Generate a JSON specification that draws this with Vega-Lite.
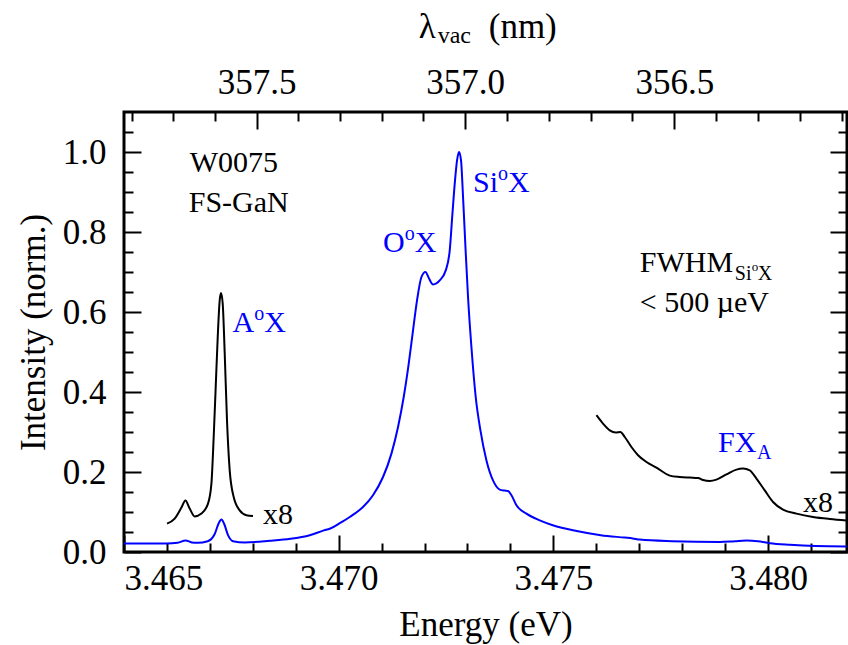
{
  "$schema": "https://vega.github.io/schema/vega-lite/v6.json",
  "width": 723,
  "height": 440,
  "autosize": {"type": "none"},
  "padding": {"left": 124, "top": 112, "right": 1, "bottom": 93},
  "config": {
    "view": {"stroke": "black", "strokeWidth": 3},
    "font": "Liberation Serif",
    "axis": {
      "grid": false,
      "domain": false,
      "tickColor": "black",
      "tickWidth": 2,
      "labelFont": "Liberation Serif",
      "labelFontSize": 35,
      "labelColor": "black",
      "titleFont": "Liberation Serif",
      "titleFontSize": 35,
      "titleFontWeight": "normal",
      "titleColor": "black"
    }
  },
  "datasets": {
    "blue": [
      {"e": 3.46500, "i": 0.021}, {"e": 3.465988, "i": 0.021}, {"e": 3.466251, "i": 0.023},
      {"e": 3.466437, "i": 0.029}, {"e": 3.466577, "i": 0.024}, {"e": 3.466717, "i": 0.023},
      {"e": 3.466950, "i": 0.027}, {"e": 3.467113, "i": 0.045}, {"e": 3.467206, "i": 0.072},
      {"e": 3.467269, "i": 0.081}, {"e": 3.467334, "i": 0.070}, {"e": 3.467423, "i": 0.042},
      {"e": 3.467539, "i": 0.027}, {"e": 3.467812, "i": 0.024}, {"e": 3.468394, "i": 0.028},
      {"e": 3.468878, "i": 0.033}, {"e": 3.469326, "i": 0.042}, {"e": 3.469656, "i": 0.054},
      {"e": 3.469792, "i": 0.058}, {"e": 3.470025, "i": 0.072}, {"e": 3.470258, "i": 0.0875},
      {"e": 3.470567, "i": 0.1125}, {"e": 3.470800, "i": 0.142}, {"e": 3.471033, "i": 0.1875},
      {"e": 3.471229, "i": 0.246}, {"e": 3.471383, "i": 0.3125}, {"e": 3.471515, "i": 0.3875},
      {"e": 3.471632, "i": 0.471}, {"e": 3.471732, "i": 0.554}, {"e": 3.471825, "i": 0.629},
      {"e": 3.471928, "i": 0.6875}, {"e": 3.472021, "i": 0.700}, {"e": 3.472105, "i": 0.6835},
      {"e": 3.472198, "i": 0.669}, {"e": 3.472354, "i": 0.679}, {"e": 3.472494, "i": 0.704},
      {"e": 3.472587, "i": 0.754}, {"e": 3.472650, "i": 0.846}, {"e": 3.472710, "i": 0.929},
      {"e": 3.472757, "i": 0.979}, {"e": 3.472804, "i": 1.000}, {"e": 3.472850, "i": 0.979},
      {"e": 3.472897, "i": 0.8875}, {"e": 3.472953, "i": 0.7625}, {"e": 3.473013, "i": 0.6375},
      {"e": 3.473092, "i": 0.5125}, {"e": 3.473192, "i": 0.3875}, {"e": 3.473302, "i": 0.304},
      {"e": 3.473442, "i": 0.229}, {"e": 3.473595, "i": 0.179}, {"e": 3.473752, "i": 0.156},
      {"e": 3.473868, "i": 0.1535}, {"e": 3.473945, "i": 0.1525}, {"e": 3.474024, "i": 0.142},
      {"e": 3.474141, "i": 0.117}, {"e": 3.474374, "i": 0.096}, {"e": 3.474683, "i": 0.079},
      {"e": 3.474986, "i": 0.067}, {"e": 3.475545, "i": 0.0525}, {"e": 3.476104, "i": 0.042},
      {"e": 3.476663, "i": 0.036}, {"e": 3.476850, "i": 0.034}, {"e": 3.477013, "i": 0.031},
      {"e": 3.477770, "i": 0.027}, {"e": 3.478876, "i": 0.025}, {"e": 3.479226, "i": 0.027},
      {"e": 3.479494, "i": 0.0285}, {"e": 3.479762, "i": 0.027}, {"e": 3.480041, "i": 0.022},
      {"e": 3.480507, "i": 0.018}, {"e": 3.481104, "i": 0.015}, {"e": 3.481835, "i": 0.014}
    ],
    "black": [
      {"seg": "A", "e": 3.466002, "i": 0.071}, {"seg": "A", "e": 3.466181, "i": 0.0835},
      {"seg": "A", "e": 3.466337, "i": 0.111}, {"seg": "A", "e": 3.466430, "i": 0.129},
      {"seg": "A", "e": 3.466530, "i": 0.1085}, {"seg": "A", "e": 3.466647, "i": 0.089},
      {"seg": "A", "e": 3.466803, "i": 0.096}, {"seg": "A", "e": 3.466957, "i": 0.121},
      {"seg": "A", "e": 3.467036, "i": 0.171}, {"seg": "A", "e": 3.467089, "i": 0.2875},
      {"seg": "A", "e": 3.467136, "i": 0.4125}, {"seg": "A", "e": 3.467183, "i": 0.5375},
      {"seg": "A", "e": 3.467229, "i": 0.629}, {"seg": "A", "e": 3.467260, "i": 0.6475},
      {"seg": "A", "e": 3.467299, "i": 0.621}, {"seg": "A", "e": 3.467346, "i": 0.496},
      {"seg": "A", "e": 3.467399, "i": 0.329}, {"seg": "A", "e": 3.467462, "i": 0.204},
      {"seg": "A", "e": 3.467555, "i": 0.1375}, {"seg": "A", "e": 3.467695, "i": 0.104},
      {"seg": "A", "e": 3.467851, "i": 0.092}, {"seg": "A", "e": 3.468005, "i": 0.090},
      {"seg": "FX", "e": 3.476004, "i": 0.342}, {"seg": "FX", "e": 3.476158, "i": 0.321},
      {"seg": "FX", "e": 3.476314, "i": 0.304}, {"seg": "FX", "e": 3.476454, "i": 0.2985},
      {"seg": "FX", "e": 3.476563, "i": 0.300}, {"seg": "FX", "e": 3.476663, "i": 0.2875},
      {"seg": "FX", "e": 3.476819, "i": 0.2625}, {"seg": "FX", "e": 3.476973, "i": 0.242},
      {"seg": "FX", "e": 3.477169, "i": 0.225}, {"seg": "FX", "e": 3.477402, "i": 0.211},
      {"seg": "FX", "e": 3.477711, "i": 0.191}, {"seg": "FX", "e": 3.477944, "i": 0.1875},
      {"seg": "FX", "e": 3.478177, "i": 0.186}, {"seg": "FX", "e": 3.478371, "i": 0.185},
      {"seg": "FX", "e": 3.478487, "i": 0.180}, {"seg": "FX", "e": 3.478643, "i": 0.1775},
      {"seg": "FX", "e": 3.478799, "i": 0.181}, {"seg": "FX", "e": 3.479032, "i": 0.194},
      {"seg": "FX", "e": 3.479265, "i": 0.206}, {"seg": "FX", "e": 3.479419, "i": 0.2085},
      {"seg": "FX", "e": 3.479575, "i": 0.204}, {"seg": "FX", "e": 3.479731, "i": 0.1835},
      {"seg": "FX", "e": 3.479924, "i": 0.154}, {"seg": "FX", "e": 3.480117, "i": 0.125},
      {"seg": "FX", "e": 3.480350, "i": 0.106}, {"seg": "FX", "e": 3.480662, "i": 0.096},
      {"seg": "FX", "e": 3.481049, "i": 0.0875}, {"seg": "FX", "e": 3.481438, "i": 0.0825},
      {"seg": "FX", "e": 3.481828, "i": 0.079}
    ],
    "txtBlack": [
      {"e": 3.46653, "i": 0.949, "t": "W0075"},
      {"e": 3.466507, "i": 0.850, "t": "FS-GaN"},
      {"e": 3.477013, "i": 0.700, "t": "FWHM"},
      {"e": 3.477013, "i": 0.600, "t": "< 500 µeV"},
      {"e": 3.468238, "i": 0.071, "t": "x8"},
      {"e": 3.480816, "i": 0.100, "t": "x8"}
    ],
    "txtBlue": [
      {"e": 3.467525, "i": 0.55, "t": "A"},
      {"e": 3.468264, "i": 0.55, "t": "X"},
      {"e": 3.471033, "i": 0.75, "t": "O"},
      {"e": 3.471772, "i": 0.75, "t": "X"},
      {"e": 3.473130, "i": 0.90, "t": "Si"},
      {"e": 3.473945, "i": 0.90, "t": "X"},
      {"e": 3.478837, "i": 0.25, "t": "FX"}
    ],
    "txtBlueSmall": [
      {"e": 3.468031, "i": 0.579, "t": "o"},
      {"e": 3.471539, "i": 0.779, "t": "o"},
      {"e": 3.473712, "i": 0.931, "t": "o"},
      {"e": 3.479745, "i": 0.2335, "t": "A"}
    ],
    "txtBlackSmall": [
      {"e": 3.479226, "i": 0.681, "t": "Si"},
      {"e": 3.479762, "i": 0.681, "t": "X"}
    ],
    "txtBlackTiny": [
      {"e": 3.479622, "i": 0.7025, "t": "o"}
    ],
    "titleBig": [
      {"e": 3.471865, "i": 1.285, "t": "λ"},
      {"e": 3.473495, "i": 1.285, "t": "(nm)"}
    ],
    "titleSub": [
      {"e": 3.472307, "i": 1.272, "t": "vac"}
    ]
  },
  "layer": [
    {
      "data": {"name": "blue"},
      "mark": {"type": "line", "color": "#0000ff", "strokeWidth": 2, "interpolate": "monotone"},
      "encoding": {
        "x": {
          "field": "e", "type": "quantitative",
          "scale": {"domain": [3.465, 3.48184], "nice": false, "zero": false},
          "axis": {
            "orient": "bottom",
            "title": "Energy (eV)",
            "values": [3.465, 3.466, 3.467, 3.468, 3.469, 3.470, 3.471, 3.472, 3.473, 3.474, 3.475, 3.476, 3.477, 3.478, 3.479, 3.480, 3.481],
            "labelExpr": "abs(datum.value*200 - round(datum.value*200)) < 0.01 ? format(datum.value, '.3f') : ''",
            "tickSize": {"condition": {"test": "abs(datum.value*200 - round(datum.value*200)) < 0.01", "value": -17}, "value": -9},
            "labelPadding": 26,
            "labelFlush": true,
            "titleBaseline": "alphabetic",
            "titleY": 83
          }
        },
        "y": {
          "field": "i", "type": "quantitative",
          "scale": {"domain": [0, 1.1], "nice": false},
          "axis": {
            "orient": "left",
            "title": "Intensity (norm.)",
            "values": [0, 0.05, 0.1, 0.15, 0.2, 0.25, 0.3, 0.35, 0.4, 0.45, 0.5, 0.55, 0.6, 0.65, 0.7, 0.75, 0.8, 0.85, 0.9, 0.95, 1.0, 1.05],
            "labelExpr": "abs(datum.value*5 - round(datum.value*5)) < 0.001 ? format(datum.value, '.1f') : ''",
            "tickSize": {"condition": {"test": "abs(datum.value*5 - round(datum.value*5)) < 0.001", "value": -17}, "value": -9},
            "labelPadding": 35,
            "titleBaseline": "alphabetic",
            "titleX": -80,
            "titleY": 220
          }
        }
      }
    },
    {
      "data": {"name": "black"},
      "mark": {"type": "line", "color": "black", "strokeWidth": 2, "interpolate": "monotone"},
      "encoding": {
        "x": {
          "field": "e", "type": "quantitative",
          "scale": {"domain": [3.465, 3.48184], "nice": false, "zero": false},
          "axis": {
            "orient": "top",
            "title": null,
            "values": [3.465182, 3.466150, 3.467120, 3.468090, 3.469060, 3.470031, 3.471002, 3.471974, 3.472947, 3.473920, 3.474894, 3.475868, 3.476842, 3.477818, 3.478794, 3.479770, 3.480747, 3.481724],
            "labelExpr": "round(12398.42/datum.value) % 5 == 0 ? format(1239.842/datum.value, '.1f') : ''",
            "tickSize": {"condition": {"test": "round(12398.42/datum.value) % 5 == 0", "value": -17}, "value": -9},
            "labelPadding": 29
          }
        },
        "y": {
          "field": "i", "type": "quantitative",
          "scale": {"domain": [0, 1.1], "nice": false},
          "axis": {
            "orient": "right",
            "title": null,
            "values": [0, 0.05, 0.1, 0.15, 0.2, 0.25, 0.3, 0.35, 0.4, 0.45, 0.5, 0.55, 0.6, 0.65, 0.7, 0.75, 0.8, 0.85, 0.9, 0.95, 1.0, 1.05],
            "labels": false,
            "tickSize": {"condition": {"test": "abs(datum.value*5 - round(datum.value*5)) < 0.001", "value": -17}, "value": -9}
          }
        },
        "detail": {"field": "seg"}
      }
    },
    {
      "data": {"name": "txtBlack"},
      "mark": {"type": "text", "align": "left", "baseline": "alphabetic", "fontSize": 30, "font": "Liberation Serif", "color": "black"},
      "encoding": {
        "x": {"field": "e", "type": "quantitative", "axis": null, "scale": {"domain": [3.465, 3.48184], "nice": false, "zero": false}},
        "y": {"field": "i", "type": "quantitative", "axis": null, "scale": {"domain": [0, 1.1], "nice": false}},
        "text": {"field": "t"}
      }
    },
    {
      "data": {"name": "txtBlue"},
      "mark": {"type": "text", "align": "left", "baseline": "alphabetic", "fontSize": 30, "font": "Liberation Serif", "color": "#0000ff"},
      "encoding": {
        "x": {"field": "e", "type": "quantitative", "axis": null, "scale": {"domain": [3.465, 3.48184], "nice": false, "zero": false}},
        "y": {"field": "i", "type": "quantitative", "axis": null, "scale": {"domain": [0, 1.1], "nice": false}},
        "text": {"field": "t"}
      }
    },
    {
      "data": {"name": "txtBlueSmall"},
      "mark": {"type": "text", "align": "left", "baseline": "alphabetic", "fontSize": 20, "font": "Liberation Serif", "color": "#0000ff"},
      "encoding": {
        "x": {"field": "e", "type": "quantitative", "axis": null, "scale": {"domain": [3.465, 3.48184], "nice": false, "zero": false}},
        "y": {"field": "i", "type": "quantitative", "axis": null, "scale": {"domain": [0, 1.1], "nice": false}},
        "text": {"field": "t"}
      }
    },
    {
      "data": {"name": "txtBlackSmall"},
      "mark": {"type": "text", "align": "left", "baseline": "alphabetic", "fontSize": 20, "font": "Liberation Serif", "color": "black"},
      "encoding": {
        "x": {"field": "e", "type": "quantitative", "axis": null, "scale": {"domain": [3.465, 3.48184], "nice": false, "zero": false}},
        "y": {"field": "i", "type": "quantitative", "axis": null, "scale": {"domain": [0, 1.1], "nice": false}},
        "text": {"field": "t"}
      }
    },
    {
      "data": {"name": "txtBlackTiny"},
      "mark": {"type": "text", "align": "left", "baseline": "alphabetic", "fontSize": 13, "font": "Liberation Serif", "color": "black"},
      "encoding": {
        "x": {"field": "e", "type": "quantitative", "axis": null, "scale": {"domain": [3.465, 3.48184], "nice": false, "zero": false}},
        "y": {"field": "i", "type": "quantitative", "axis": null, "scale": {"domain": [0, 1.1], "nice": false}},
        "text": {"field": "t"}
      }
    },
    {
      "data": {"name": "titleBig"},
      "mark": {"type": "text", "align": "left", "baseline": "alphabetic", "fontSize": 35, "font": "Liberation Serif", "color": "black"},
      "encoding": {
        "x": {"field": "e", "type": "quantitative", "axis": null, "scale": {"domain": [3.465, 3.48184], "nice": false, "zero": false}},
        "y": {"field": "i", "type": "quantitative", "axis": null, "scale": {"domain": [0, 1.1], "nice": false}},
        "text": {"field": "t"}
      }
    },
    {
      "data": {"name": "titleSub"},
      "mark": {"type": "text", "align": "left", "baseline": "alphabetic", "fontSize": 24, "font": "Liberation Serif", "color": "black"},
      "encoding": {
        "x": {"field": "e", "type": "quantitative", "axis": null, "scale": {"domain": [3.465, 3.48184], "nice": false, "zero": false}},
        "y": {"field": "i", "type": "quantitative", "axis": null, "scale": {"domain": [0, 1.1], "nice": false}},
        "text": {"field": "t"}
      }
    }
  ],
  "resolve": {"axis": {"x": "independent", "y": "independent"}}
}
